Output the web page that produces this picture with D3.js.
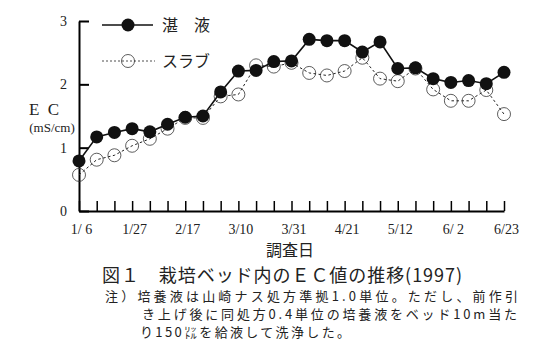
<!DOCTYPE html>
<html>
<head>
<meta charset="utf-8">
<script src="https://cdn.jsdelivr.net/npm/d3@7"></script>
<style>
    body { margin: 0; background: #fff; }
    svg { display: block; font-family: "Liberation Serif", "DejaVu Serif", "Noto Sans CJK JP", serif; }
</style>
</head>
<body>
<div id="chart"></div>
<script>
// weekly survey dates
const dates = ['1/6', '1/13', '1/20', '1/27', '2/3', '2/10', '2/17', '2/24', '3/3', '3/10',
    '3/17', '3/24', '3/31', '4/7', '4/14', '4/21', '4/28', '5/5', '5/12', '5/19',
    '5/26', '6/2', '6/9', '6/16', '6/23'];
const tickLabels = { '1/6': '1/ 6', '1/27': '1/27', '2/17': '2/17', '3/10': '3/10', '3/31': '3/31',
    '4/21': '4/21', '5/12': '5/12', '6/2': '6/ 2', '6/23': '6/23' };

// 湛液
const tanEki = [0.79, 1.17, 1.24, 1.30, 1.25, 1.37, 1.48, 1.50, 1.88, 2.21,
    2.22, 2.36, 2.37, 2.71, 2.69, 2.69, 2.51, 2.67, 2.25, 2.26,
    2.09, 2.03, 2.06, 2.01, 2.19];
// スラブ
const slab = [0.57, 0.81, 0.88, 1.03, 1.14, 1.30, 1.47, 1.47, 1.81, 1.84,
    2.30, 2.28, 2.34, 2.18, 2.14, 2.21, 2.42, 2.09, 2.05, 2.25,
    1.92, 1.74, 1.74, 1.91, 1.53];

const yTicks = [0, 1, 2, 3];

const width = 556, height = 350;
const svg = d3.select('#chart').append('svg')
    .attr('width', width)
    .attr('height', height);

const x = d3.scalePoint().domain(dates).range([79, 504]);
const y = d3.scaleLinear().domain([0, 3]).range([211, 21]);

// x axis, ticks pointing up
const xAxis = svg.append('g')
    .attr('transform', `translate(0,${y(0)})`)
    .call(d3.axisBottom(x)
        .tickValues(dates)
        .tickSize(-10)
        .tickSizeOuter(0)
        .tickPadding(13)
        .tickFormat(d => tickLabels[d] || ''));
xAxis.select('.domain').attr('stroke-width', 2);
xAxis.selectAll('.tick line').attr('stroke-width', 1.5);
xAxis.selectAll('text').attr('font-size', 14).attr('font-family', '"Liberation Serif", serif')
    .attr('fill', '#222').attr('dx', 2).style('white-space', 'pre');

// y axis, ticks pointing right
const yAxis = svg.append('g')
    .attr('transform', `translate(${x(dates[0])},0)`)
    .call(d3.axisLeft(y)
        .tickValues(yTicks)
        .tickSize(-10)
        .tickSizeOuter(0)
        .tickPadding(12)
        .tickFormat(d3.format('d')));
yAxis.select('.domain').attr('stroke-width', 2);
yAxis.selectAll('.tick line').attr('stroke-width', 2);
yAxis.selectAll('text').attr('font-size', 14).attr('font-family', '"Liberation Serif", serif').attr('fill', '#222');

// series
const line = d3.line().x((d, i) => x(dates[i])).y(d => y(d));

svg.append('path')
    .datum(slab)
    .attr('d', line)
    .attr('fill', 'none')
    .attr('stroke', '#222')
    .attr('stroke-width', 1)
    .attr('stroke-dasharray', '2.5,2.5');

svg.selectAll('.slab')
    .data(slab)
    .enter().append('circle')
    .classed('slab', true)
    .attr('cx', (d, i) => x(dates[i]))
    .attr('cy', d => y(d))
    .attr('r', 6.5)
    .attr('fill', 'none')
    .attr('stroke', '#333')
    .attr('stroke-width', 0.8);

svg.append('path')
    .datum(tanEki)
    .attr('d', line)
    .attr('fill', 'none')
    .attr('stroke', '#111')
    .attr('stroke-width', 1.6);

svg.selectAll('.tan')
    .data(tanEki)
    .enter().append('circle')
    .classed('tan', true)
    .attr('cx', (d, i) => x(dates[i]))
    .attr('cy', d => y(d))
    .attr('r', 6.5)
    .attr('fill', '#111');

// legend
const legend = svg.append('g');
legend.append('line')
    .attr('x1', 102).attr('x2', 153).attr('y1', 25).attr('y2', 25)
    .attr('stroke', '#111').attr('stroke-width', 1.6);
legend.append('circle').attr('cx', 128).attr('cy', 25).attr('r', 6.5).attr('fill', '#111');
legend.append('text').attr('x', 162).attr('y', 31).attr('font-size', 16)
    .attr('font-family', '"Noto Sans CJK JP", sans-serif').attr('fill', '#222').text('湛　液');

legend.append('line')
    .attr('x1', 102).attr('x2', 155).attr('y1', 61).attr('y2', 61)
    .attr('stroke', '#222').attr('stroke-width', 0.8).attr('stroke-dasharray', '2,2');
legend.append('circle').attr('cx', 128).attr('cy', 61).attr('r', 6.5)
    .attr('fill', 'none').attr('stroke', '#333').attr('stroke-width', 0.8);
legend.append('text').attr('x', 162).attr('y', 67).attr('font-size', 16)
    .attr('font-family', '"Noto Sans CJK JP", sans-serif').attr('fill', '#222').text('スラブ');

// y axis title
svg.append('text').attr('x', 45).attr('y', 115).attr('text-anchor', 'middle')
    .attr('font-size', 17).attr('fill', '#222').text('E C').attr('letter-spacing', 2);
svg.append('text').attr('x', 52).attr('y', 132).attr('text-anchor', 'middle')
    .attr('font-size', 13).attr('fill', '#222').text('(mS/cm)');

// x axis title
svg.append('text').attr('x', 290).attr('y', 256).attr('text-anchor', 'middle')
    .attr('font-size', 16).attr('font-family', '"Noto Sans CJK JP", sans-serif')
    .attr('fill', '#222').text('調査日');

// caption
svg.append('text').attr('x', 102).attr('y', 282)
    .attr('font-size', 18).attr('fill', '#222')
    .attr('font-family', '"Noto Sans CJK JP", sans-serif')
    .attr('textLength', 360).attr('lengthAdjust', 'spacing')
    .text('図１　栽培ベッド内のＥＣ値の推移(1997)');

const notes = [
    { x: 105, y: 301, len: 413, text: '注）培養液は山崎ナス処方準拠1.0単位。ただし、前作引' },
    { x: 142, y: 319, len: 375, text: 'き上げ後に同処方0.4単位の培養液をベッド10m当た' },
    { x: 140, y: 337, len: 210, text: 'り150㍑を給液して洗浄した。' }
];
svg.selectAll('.note')
    .data(notes)
    .enter().append('text')
    .classed('note', true)
    .attr('x', d => d.x)
    .attr('y', d => d.y)
    .attr('font-size', 13)
    .attr('font-family', '"Noto Sans CJK JP", sans-serif')
    .attr('fill', '#222')
    .attr('textLength', d => d.len)
    .attr('lengthAdjust', 'spacing')
    .text(d => d.text);
</script>
</body>
</html>
